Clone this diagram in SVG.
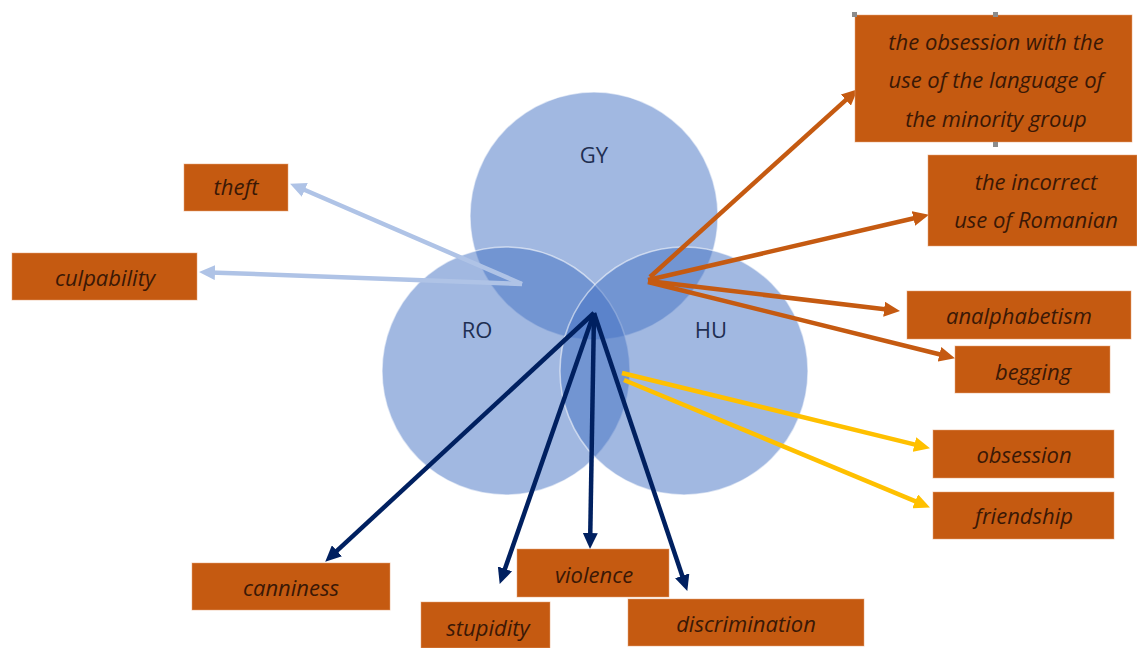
<svg xmlns="http://www.w3.org/2000/svg" width="1137" height="648" viewBox="0 0 1137 648">
  <style>
    .circ { fill: #4472c4; fill-opacity: 0.5; stroke: #ffffff; stroke-opacity: 0.55; stroke-width: 1.5; }
    .clabel { font-family: "Open Sans", "Liberation Sans", sans-serif; font-size: 22px; fill: #1f2f52; text-anchor: middle; }
    .box { fill: #c55a11; stroke: #e9a577; stroke-opacity: 0.5; stroke-width: 1; }
    .btext { font-family: "Open Sans", "Liberation Sans", sans-serif; font-style: italic; font-size: 22px; fill: #3a1806; text-anchor: middle; }
    .conn { fill: none; stroke-width: 4.5; stroke-linecap: butt; }
    .lb { stroke: #afc3e6; }
    .or { stroke: #c55a11; }
    .ye { stroke: #ffc000; }
    .nv { stroke: #002060; }
    .handle { fill: #8c8c8c; }
  </style>
  <defs>
    <marker id="ah-lb" markerUnits="userSpaceOnUse" markerWidth="17" markerHeight="15" refX="5" refY="7.5" orient="auto">
      <path d="M0,0 L16,7.5 L0,15 z" fill="#afc3e6"/>
    </marker>
    <marker id="ah-or" markerUnits="userSpaceOnUse" markerWidth="17" markerHeight="15" refX="5" refY="7.5" orient="auto">
      <path d="M0,0 L16,7.5 L0,15 z" fill="#c55a11"/>
    </marker>
    <marker id="ah-ye" markerUnits="userSpaceOnUse" markerWidth="17" markerHeight="15" refX="5" refY="7.5" orient="auto">
      <path d="M0,0 L16,7.5 L0,15 z" fill="#ffc000"/>
    </marker>
    <marker id="ah-nv" markerUnits="userSpaceOnUse" markerWidth="17" markerHeight="15" refX="5" refY="7.5" orient="auto">
      <path d="M0,0 L16,7.5 L0,15 z" fill="#002060"/>
    </marker>
  </defs>
  <rect x="0" y="0" width="1137" height="648" fill="#ffffff"/>

  <!-- Venn circles -->
  <g id="circle-gy">
    <circle class="circ" cx="594" cy="216" r="124"/>
  </g>
  <g id="circle-ro">
    <circle class="circ" cx="506" cy="371" r="124"/>
  </g>
  <g id="circle-hu">
    <circle class="circ" cx="684" cy="371" r="124"/>
  </g>
  <g id="circle-labels">
    <text class="clabel" x="594" y="163">GY</text>
    <text class="clabel" x="477" y="338">RO</text>
    <text class="clabel" x="711" y="338">HU</text>
  </g>

  <!-- Connectors -->
  <g id="connectors">
    <line class="conn lb" x1="522" y1="284" x2="300.2" y2="188" marker-end="url(#ah-lb)"/>
    <line class="conn lb" x1="522" y1="284" x2="210" y2="272.4" marker-end="url(#ah-lb)"/>

    <line class="conn or" x1="650" y1="277" x2="849.6" y2="96.7" marker-end="url(#ah-or)"/>
    <line class="conn or" x1="648" y1="280" x2="918.3" y2="217.3" marker-end="url(#ah-or)"/>
    <line class="conn or" x1="648" y1="281" x2="889.1" y2="309.8" marker-end="url(#ah-or)"/>
    <line class="conn or" x1="648" y1="282" x2="944.3" y2="355.5" marker-end="url(#ah-or)"/>

    <line class="conn ye" x1="622" y1="373" x2="919.3" y2="445.6" marker-end="url(#ah-ye)"/>
    <line class="conn ye" x1="624" y1="380" x2="919.8" y2="503.2" marker-end="url(#ah-ye)"/>

    <line class="conn nv" x1="594" y1="313" x2="333.3" y2="554.2" marker-end="url(#ah-nv)"/>
    <line class="conn nv" x1="594" y1="313" x2="503.3" y2="573.6" marker-end="url(#ah-nv)"/>
    <line class="conn nv" x1="594" y1="313" x2="590.2" y2="538" marker-end="url(#ah-nv)"/>
    <line class="conn nv" x1="594" y1="313" x2="683.8" y2="580.5" marker-end="url(#ah-nv)"/>
  </g>

  <!-- Boxes -->
  <g id="box-obsession-language">
    <rect class="box" x="855" y="15" width="277" height="127"/>
    <text class="btext" x="996" y="50">the obsession with the</text>
    <text class="btext" x="996" y="88">use of the language of</text>
    <text class="btext" x="996" y="127">the minority group</text>
    <rect class="handle" x="852" y="12" width="5" height="5"/>
    <rect class="handle" x="993" y="12" width="5" height="5"/>
    <rect class="handle" x="993" y="142" width="5" height="5"/>
  </g>
  <g id="box-incorrect-romanian">
    <rect class="box" x="928" y="155" width="209" height="91"/>
    <text class="btext" x="1036" y="190">the incorrect</text>
    <text class="btext" x="1036" y="228">use of Romanian</text>
  </g>
  <g id="box-analphabetism">
    <rect class="box" x="907" y="291" width="224" height="48"/>
    <text class="btext" x="1019" y="324">analphabetism</text>
  </g>
  <g id="box-begging">
    <rect class="box" x="955" y="346" width="155" height="47"/>
    <text class="btext" x="1033" y="380">begging</text>
  </g>
  <g id="box-obsession">
    <rect class="box" x="933" y="430" width="181" height="48"/>
    <text class="btext" x="1024" y="463">obsession</text>
  </g>
  <g id="box-friendship">
    <rect class="box" x="933" y="492" width="181" height="47"/>
    <text class="btext" x="1024" y="524">friendship</text>
  </g>
  <g id="box-theft">
    <rect class="box" x="184" y="164" width="104" height="47"/>
    <text class="btext" x="236" y="195">theft</text>
  </g>
  <g id="box-culpability">
    <rect class="box" x="12" y="253" width="185" height="47"/>
    <text class="btext" x="105" y="286">culpability</text>
  </g>
  <g id="box-canniness">
    <rect class="box" x="192" y="563" width="198" height="47"/>
    <text class="btext" x="291" y="596">canniness</text>
  </g>
  <g id="box-violence">
    <rect class="box" x="517" y="549" width="152" height="48"/>
    <text class="btext" x="594" y="583">violence</text>
  </g>
  <g id="box-stupidity">
    <rect class="box" x="421" y="602" width="129" height="46"/>
    <text class="btext" x="488" y="636">stupidity</text>
  </g>
  <g id="box-discrimination">
    <rect class="box" x="628" y="599" width="236" height="47"/>
    <text class="btext" x="746" y="632">discrimination</text>
  </g>
</svg>
